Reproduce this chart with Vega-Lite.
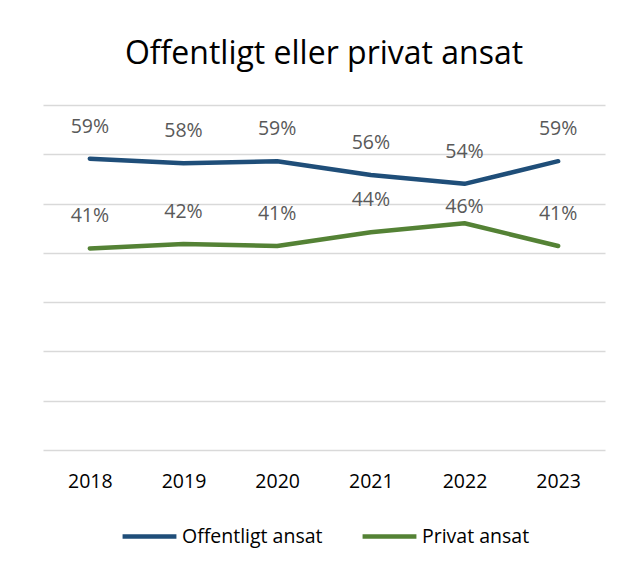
{
  "$schema": "https://vega.github.io/schema/vega-lite/v6.json",
  "width": 562,
  "height": 345,
  "autosize": {"type": "none"},
  "padding": {"left": 43, "top": 105, "right": 35, "bottom": 118},
  "background": "white",
  "config": {"view": {"stroke": null}},
  "title": {
    "text": "Offentligt eller privat ansat",
    "font": "Open Sans",
    "fontSize": 32,
    "fontWeight": "normal",
    "color": "#000000",
    "anchor": "middle",
    "offset": 34
  },
  "data": {
    "values": [
      {"year": "2018", "group": "Offentligt ansat", "value": 59.1},
      {"year": "2019", "group": "Offentligt ansat", "value": 58.2},
      {"year": "2020", "group": "Offentligt ansat", "value": 58.6},
      {"year": "2021", "group": "Offentligt ansat", "value": 55.8},
      {"year": "2022", "group": "Offentligt ansat", "value": 54.0},
      {"year": "2023", "group": "Offentligt ansat", "value": 58.6},
      {"year": "2018", "group": "Privat ansat", "value": 40.9},
      {"year": "2019", "group": "Privat ansat", "value": 41.8},
      {"year": "2020", "group": "Privat ansat", "value": 41.4},
      {"year": "2021", "group": "Privat ansat", "value": 44.2},
      {"year": "2022", "group": "Privat ansat", "value": 46.0},
      {"year": "2023", "group": "Privat ansat", "value": 41.4}
    ]
  },
  "encoding": {
    "x": {
      "field": "year", "type": "ordinal",
      "scale": {"type": "point", "padding": 0.5},
      "axis": {
        "title": null, "domain": false, "ticks": false, "grid": false,
        "labelAngle": 0, "labelFont": "Open Sans", "labelFontSize": 19.5,
        "labelColor": "#000000", "labelPadding": 22
      }
    },
    "y": {
      "field": "value", "type": "quantitative",
      "scale": {"domain": [0, 70], "nice": false},
      "axis": {
        "title": null, "labels": false, "ticks": false, "domain": false,
        "values": [0, 10, 20, 30, 40, 50, 60, 70],
        "gridColor": "#d9d9d9", "gridWidth": 1.5
      }
    },
    "color": {
      "field": "group", "type": "nominal",
      "scale": {"domain": ["Offentligt ansat", "Privat ansat"], "range": ["#1f4e79", "#548235"]},
      "legend": {
        "title": null, "orient": "none", "direction": "horizontal",
        "legendX": 77, "legendY": 402,
        "symbolType": "stroke", "symbolSize": 2900, "symbolStrokeWidth": 4.5,
        "labelFont": "Open Sans", "labelFontSize": 19.5, "labelColor": "#000000",
        "columnPadding": 30, "labelOffset": 3
      }
    }
  },
  "layer": [
    {
      "mark": {"type": "line", "strokeWidth": 4.5, "strokeCap": "round", "strokeJoin": "round"}
    },
    {
      "transform": [
        {"calculate": "round(datum.value) + '%'", "as": "lbl"},
        {"filter": "!(datum.year == '2022' && datum.group == 'Privat ansat')"}
      ],
      "mark": {"type": "text", "dy": -32, "font": "Open Sans", "fontSize": 19.5, "color": "#595959"},
      "encoding": {
        "text": {"field": "lbl", "type": "nominal"},
        "color": {"value": "#595959"}
      }
    },
    {
      "transform": [
        {"calculate": "round(datum.value) + '%'", "as": "lbl"},
        {"filter": "datum.year == '2022' && datum.group == 'Privat ansat'"}
      ],
      "mark": {"type": "text", "dy": -16, "font": "Open Sans", "fontSize": 19.5, "color": "#595959"},
      "encoding": {
        "text": {"field": "lbl", "type": "nominal"},
        "color": {"value": "#595959"}
      }
    }
  ]
}
